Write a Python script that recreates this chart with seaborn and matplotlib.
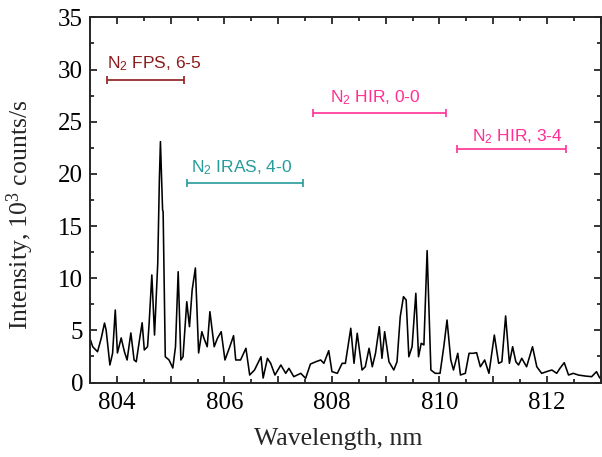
import numpy as np
import pandas as pd
import matplotlib
matplotlib.use("Agg")
import matplotlib.pyplot as plt
import seaborn as sns
from matplotlib.ticker import MultipleLocator, FuncFormatter

# === Spectrum (nm, 10^3 counts/s) ===
wavelength = [
    803.51, 803.55, 803.64, 803.71, 803.77, 803.80, 803.87, 803.92, 803.97, 804.01,
    804.08, 804.14, 804.19, 804.26, 804.32, 804.36, 804.42, 804.47, 804.51, 804.57,
    804.60, 804.65, 804.70, 804.76, 804.79, 804.81, 804.85, 804.86, 804.90, 804.97,
    805.04, 805.09, 805.14, 805.19, 805.23, 805.30, 805.35, 805.40, 805.46, 805.52,
    805.58, 805.62, 805.68, 805.73, 805.81, 805.87, 805.94, 806.01, 806.10, 806.17,
    806.21, 806.30, 806.40, 806.47, 806.56, 806.68, 806.72, 806.80, 806.86, 806.94,
    807.05, 807.14, 807.20, 807.29, 807.42, 807.51, 807.60, 807.70, 807.79, 807.85,
    807.94, 808.00, 808.10, 808.19, 808.25, 808.35, 808.41, 808.47, 808.56, 808.62,
    808.69, 808.75, 808.81, 808.88, 808.93, 808.98, 809.06, 809.15, 809.21, 809.27,
    809.33, 809.38, 809.43, 809.49, 809.56, 809.61, 809.66, 809.71, 809.77, 809.84,
    809.92, 810.01, 810.08, 810.14, 810.21, 810.26, 810.34, 810.39, 810.48, 810.55,
    810.63, 810.69, 810.76, 810.84, 810.92, 811.02, 811.10, 811.16, 811.23, 811.30,
    811.36, 811.42, 811.47, 811.53, 811.62, 811.73, 811.81, 811.90, 811.99, 812.09,
    812.18, 812.24, 812.32, 812.40, 812.49, 812.58, 812.71, 812.83, 812.92, 812.98,
]
intensity = [
    4.07, 3.43, 2.95, 4.27, 5.70, 5.03, 1.68, 2.80, 6.95, 2.83,
    4.27, 2.95, 2.16, 4.75, 2.16, 1.99, 4.07, 5.73, 3.12, 3.43,
    5.70, 10.31, 4.55, 11.43, 19.41, 23.09, 16.54, 16.38, 2.47, 2.16,
    1.39, 3.43, 10.62, 2.16, 2.47, 7.75, 5.35, 8.87, 10.98, 2.83,
    4.87, 4.24, 3.43, 6.79, 3.43, 4.24, 4.87, 2.16, 3.43, 4.49,
    2.16, 2.16, 3.28, 0.72, 1.20, 2.47, 0.43, 2.32, 1.84, 0.72,
    1.68, 0.88, 1.36, 0.56, 0.88, 0.40, 1.77, 1.99, 2.16, 1.84,
    3.05, 1.04, 0.88, 1.84, 1.84, 5.20, 1.84, 4.72, 1.20, 1.51,
    3.28, 1.51, 2.80, 5.35, 2.32, 4.87, 1.99, 1.20, 1.99, 6.31,
    8.23, 7.91, 2.47, 3.43, 8.55, 2.47, 3.76, 3.60, 12.64, 1.20,
    0.88, 0.88, 3.43, 5.99, 2.16, 1.20, 2.80, 0.72, 0.88, 2.80,
    2.80, 2.86, 1.51, 2.16, 0.88, 4.55, 1.84, 1.99, 6.38, 1.84,
    3.43, 1.99, 1.68, 2.32, 1.51, 3.43, 1.51, 0.88, 1.04, 1.20,
    0.88, 1.36, 1.90, 0.72, 0.88, 0.72, 0.62, 0.56, 1.04, 0.43,
]

# === Band markers (wavelength range and level) ===
band_labels = ["FPS, 6-5", "IRAS, 4-0", "HIR, 0-0", "HIR, 3-4"]
band_start = [803.81, 805.31, 807.65, 810.32]
band_end = [805.25, 807.46, 810.12, 812.36]
band_level = [29.0, 19.1, 25.85, 22.35]
band_colors = ["#8c1c1c", "#279a9a", "#ff2f93", "#ff2f93"]

# label placement (left edge of text, baseline)
label_x = [803.81, 805.38, 807.96, 810.60]
label_y = [30.15, 20.18, 26.83, 23.15]

df = pd.DataFrame({"wavelength": wavelength, "intensity": intensity})

sns.set_style("ticks")
plt.rcParams["font.family"] = ["Liberation Serif", "DejaVu Serif"]
plt.rcParams["axes.linewidth"] = 1.4

fig = plt.figure(figsize=(6.02, 4.57), dpi=100)
ax = fig.add_axes([0.1495, 0.163, 0.8485, 0.799])

sns.lineplot(data=df, x="wavelength", y="intensity", color="black",
             linewidth=1.15, ax=ax)

for lab, x0, x1, lev, col, tx, ty in zip(band_labels, band_start, band_end,
                                          band_level, band_colors, label_x, label_y):
    mid = (x0 + x1) / 2
    ax.errorbar(mid, lev, xerr=(x1 - x0) / 2, fmt="none", ecolor=col,
                elinewidth=1.2, capsize=3, capthick=1.2)
    ax.text(tx, ty, r"N$\mathregular{_2}$ " + lab, color=col,
            family=["Liberation Sans", "DejaVu Sans"], fontsize=12.5,
            ha="left", va="baseline")

ax.set_xlim(803.5, 813.0)
ax.set_ylim(0, 35)
ax.xaxis.set_major_locator(MultipleLocator(1))
ax.xaxis.set_minor_locator(MultipleLocator(0.5))
ax.xaxis.set_major_formatter(FuncFormatter(lambda v, p: f"{v:.0f}" if round(v) % 2 == 0 else ""))
ax.yaxis.set_major_locator(MultipleLocator(5))
ax.yaxis.set_minor_locator(MultipleLocator(2.5))
ax.tick_params(which="both", direction="in", top=True, right=True, width=1.1,
               labelsize=18, colors="black")
ax.tick_params(which="major", length=5)
ax.tick_params(axis="x", which="major", pad=7)
ax.tick_params(axis="y", which="major", pad=5)
ax.tick_params(which="minor", length=3)

ax.set_xlabel("Wavelength, nm", fontsize=18.5)
ax.set_ylabel(r"Intensity, $\mathregular{10^3}$ counts/s", fontsize=18.5)
ax.xaxis.set_label_coords(0.485, -0.125)
ax.yaxis.set_label_coords(-0.105, 0.46)

fig.savefig("out.png", dpi=100)
